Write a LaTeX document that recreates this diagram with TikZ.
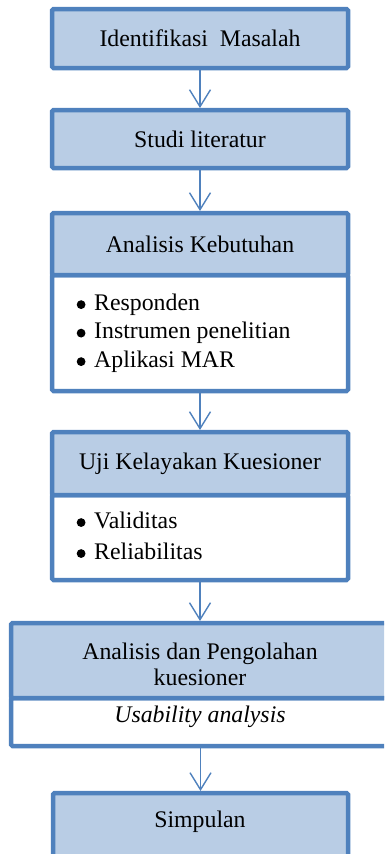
\documentclass[tikz,border=0pt]{standalone}
\usepackage{fontspec}
\setmainfont{Liberation Serif}
\usetikzlibrary{arrows.meta}
\definecolor{bord}{HTML}{4F81BD}
\definecolor{fillb}{HTML}{B9CDE5}
\newcommand\mybul{\makebox[18pt][l]{\hspace{0.5pt}\tikz[baseline=0pt]\fill[black] (4.5pt,5.6pt) circle [radius=4.4pt];}}
\begin{document}
\begin{tikzpicture}[x=1pt,y=-1pt,
  head/.style={draw=bord, fill=fillb, line width=4.5pt, rounded corners=1.5pt, minimum width=296pt, inner sep=0pt, outer sep=0pt, font=\fontsize{23.8}{28.5}\selectfont},
  bodybox/.style={draw=bord, fill=white, line width=4.5pt, rounded corners=1.5pt, minimum width=296pt, inner sep=0pt, outer sep=0pt},
  txt/.style={font=\fontsize{23.8}{28.5}\selectfont, inner sep=0pt},
  flow/.style={draw=bord, line width=1.4pt, shorten >=2pt, -{Straight Barb[length=17pt,width=21pt,line width=1.4pt]}}]
\useasboundingbox (0,0) rectangle (384,854);
\clip (0,0) rectangle (384,854);
% box 1
\node[head, minimum height=59pt] (b1) at (200,38.5) {Identifikasi\ \ Masalah};
% box 2
\node[head, minimum height=58pt] (b2) at (200,139) {Studi literatur};
% box 3
\node[bodybox, minimum height=116pt] (b3b) at (200,333) {};
\node[head, minimum height=62pt] (b3) at (200,244) {Analisis Kebutuhan};
\node[txt, anchor=west, align=left] (b3t) at (76,333)
  {\mybul Responden\\\mybul Instrumen penelitian\\\mybul Aplikasi MAR};
% box 4
\node[bodybox, minimum height=85pt] (b4b) at (200,537.5) {};
\node[head, minimum height=63pt] (b4) at (200,463.5) {Uji Kelayakan Kuesioner};
\node[txt, anchor=west, align=left, font=\fontsize{23.8}{31}\selectfont] (b4t) at (76,535.5)
  {\mybul Validitas\\\mybul Reliabilitas};
% box 5
\node[bodybox, minimum width=389pt, minimum height=48pt] (b5b) at (205.5,722) {};
\node[head, minimum width=389pt, minimum height=75pt] (b5) at (205.5,660.5) {};
\node[txt, align=center, font=\fontsize{23.8}{26}\selectfont] (b5t) at (200,664) {Analisis dan Pengolahan\\kuesioner};
\node[txt] (b5u) at (200,717) {\itshape Usability analysis};
% box 6
\node[head, minimum width=295pt, minimum height=90pt] (b6) at (200.5,838) {};
\node[txt] (b6t) at (200,822) {Simpulan};
% connectors
\draw[flow] (b1.south) -- (b2.north);
\draw[flow] (b2.south) -- (b3.north);
\draw[flow] (b3b.south) -- (b4.north);
\draw[flow] (b4b.south) -- (b4b.south |- b5.north);
\draw[flow] (b6.north |- b5b.south) -- (b6.north);
\end{tikzpicture}
\end{document}
